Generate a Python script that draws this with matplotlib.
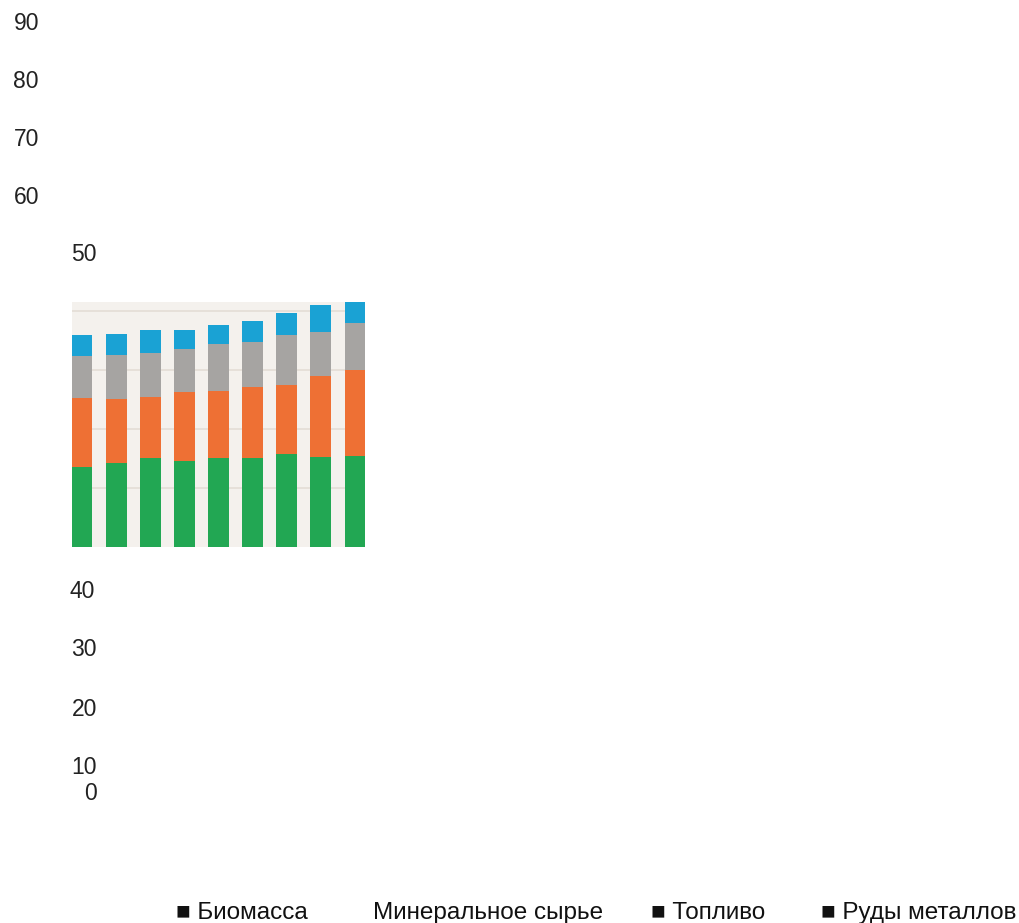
import numpy as np
import matplotlib.pyplot as plt

plt.rcParams['font.family'] = ['Liberation Sans', 'DejaVu Sans']

# stacked values (bottom to top)
biomass = [13.6, 14.3, 15.0, 14.6, 15.0, 15.0, 15.8, 15.3, 15.4]
minerals = [11.6, 10.7, 10.4, 11.7, 11.5, 12.1, 11.7, 13.6, 14.6]
fuel = [7.1, 7.5, 7.5, 7.2, 7.9, 7.7, 8.4, 7.6, 7.9]
ores = [3.6, 3.6, 3.8, 3.2, 3.2, 3.4, 3.8, 4.5, 5.1]

tick_labels = ['90', '80', '70', '60', '50', '40', '30', '20', '10', '0']
legend_labels = ['■ Биомасса', 'Минеральное сырье', '■ Топливо', '■ Руды металлов']

colors = ['#22a753', '#ee7034', '#a6a4a2', '#1aa2d4']

W, H = 1019, 923
fig = plt.figure(figsize=(W / 100, H / 100), dpi=100)

# bar panel sits in a small box, like a pasted image
ax = fig.add_axes([72 / W, (H - 547) / H, (365 - 72) / W, (547 - 302) / H])
ax.set_facecolor('#f4f1ed')
x = np.arange(len(biomass))
bottom = np.zeros(len(x))
for vals, c in zip([biomass, minerals, fuel, ores], colors):
    ax.bar(x, vals, width=0.6, bottom=bottom, color=c, zorder=2)
    bottom += np.array(vals)
ax.set_xlim(-0.3, len(x) - 0.7)
ax.set_ylim(0, 41.5)
ax.set_yticks([10, 20, 30, 40])
ax.grid(axis='y', color='#e4ddd6', lw=1.2, zorder=1)
ax.tick_params(left=False, bottom=False, labelleft=False, labelbottom=False)
for s in ax.spines.values():
    s.set_visible(False)

# scattered axis numbers (pixel positions: right edge x, centre y)
tick_pos = [(39, 23), (39, 81), (39, 140), (39, 198), (97, 255),
            (95, 591), (97, 650), (97, 709), (97, 767), (97, 794)]
for lab, (px, py) in zip(tick_labels, tick_pos):
    fig.text(px / W, 1 - py / H, lab, ha='right', va='center',
             fontsize=16.5, color='#222222')

leg_pos = [176, 373, 651, 821]
for lab, px in zip(legend_labels, leg_pos):
    fig.text(px / W, 1 - 919 / H, lab, ha='left', va='baseline',
             fontsize=17.5, color='#111111')

fig.savefig('out.png', dpi=100)
